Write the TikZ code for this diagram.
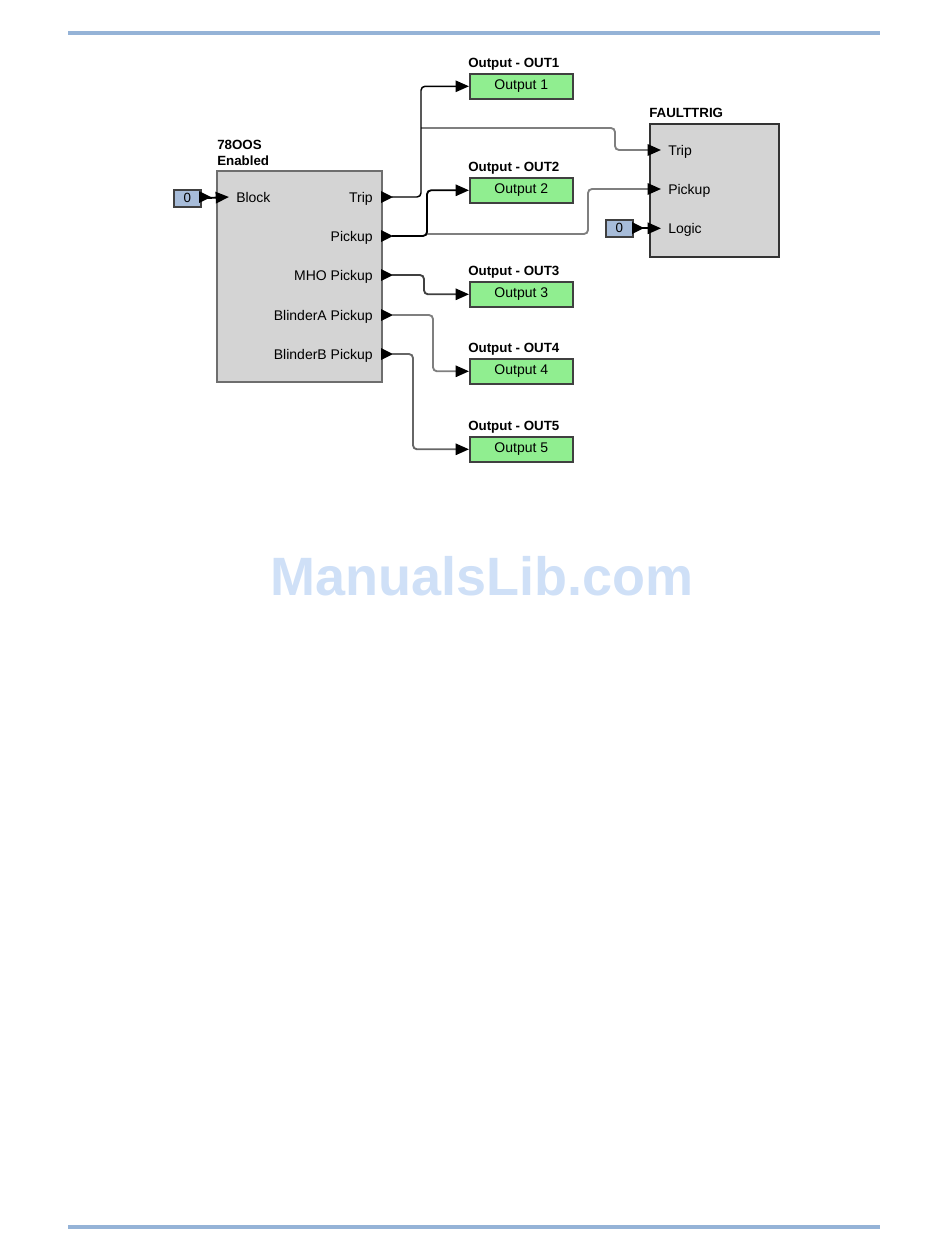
\documentclass[tikz,border=0pt]{standalone}
\usepackage{fontspec}
\setmainfont{Liberation Sans}
\usetikzlibrary{arrows.meta}
\definecolor{blockgray}{HTML}{D4D4D4}
\definecolor{blockedge}{HTML}{6E6E6E}
\definecolor{outgreen}{HTML}{90EE90}
\definecolor{constblue}{HTML}{A7BCD9}
\definecolor{rulecol}{HTML}{95B3D7}
\definecolor{wmark}{HTML}{CFE0F7}
\definecolor{wiregray}{HTML}{7F7F7F}
\begin{document}
\begin{tikzpicture}[x=0.75pt,y=-0.75pt,
  blk/.style={draw=blockedge, fill=blockgray, line width=1.2pt, anchor=north west, inner sep=0pt},
  outbox/.style={draw=black!75, fill=outgreen, line width=1.2pt, anchor=north west, inner sep=0pt,
     minimum width=77.25pt, minimum height=18.75pt, font=\fontsize{10.5}{12}\selectfont},
  constbox/.style={draw=black!75, fill=constblue, line width=1.2pt, anchor=north west, inner sep=0pt,
     minimum width=20.25pt, minimum height=12.75pt, font=\fontsize{10}{12}\selectfont},
  ttl/.style={anchor=base west, inner sep=0pt, font=\fontsize{10}{12}\bfseries\selectfont},
  plbl/.style={inner sep=0pt, font=\fontsize{10.5}{12}\selectfont},
  tip/.style={-{Triangle[length=10pt,width=8.5pt,black]}},
  wire/.style={line width=1.4pt, rounded corners=3pt},
  portmark/.style={fill=black}
]
\useasboundingbox (0,0) rectangle (950,1260);
% rules
\draw[rulecol, line width=2.6pt] (68,33) -- (880,33);
\draw[rulecol, line width=2.6pt] (68,1227) -- (880,1227);
% watermark
\node[anchor=base, inner sep=0pt, text=wmark, font=\fontsize{40.5}{44}\bfseries\selectfont] (wm) at (482,595) {ManualsLib.com};

% main block
\node[blk, minimum width=123.75pt, minimum height=158.25pt] (m) at (216,170) {};
\node[ttl] (mt1) at (217,149) {78OOS};
\node[ttl] (mt2) at (217,165) {Enabled};
\node[plbl, anchor=base west] (lblock) at (236,202) {Block};
\node[plbl, anchor=base east] (ltrip) at (373,202) {Trip};
\node[plbl, anchor=base east] (lpick) at (373,241) {Pickup};
\node[plbl, anchor=base east] (lmho) at (373,280) {MHO Pickup};
\node[plbl, anchor=base east] (lba) at (373,320) {BlinderA Pickup};
\node[plbl, anchor=base east] (lbb) at (373,359) {BlinderB Pickup};

% output port marks on main block
\foreach \yy/\nm in {197/pt,236/pp,275/pm,315/pa,354/pb}{
  \fill[portmark] (381,\yy-6) -- (393,\yy) -- (381,\yy+6) -- cycle;
  \coordinate (\nm) at (392,\yy);
}

% block input const
\node[constbox] (z1) at (173,189) {0};
\fill[portmark] (199,191) -- (211,197) -- (199,203) -- cycle;
\coordinate (bin) at (229,197);
\draw[tip, line width=1.4pt] (z1.east) -- (bin);

% FAULTTRIG block
\node[blk, draw=black!80, minimum width=96.75pt, minimum height=99.75pt] (f) at (649,123) {};
\node[ttl] (ft) at (649,117) {FAULTTRIG};
\node[plbl, anchor=base west] (ftrip) at (668,155) {Trip};
\node[plbl, anchor=base west] (fpick) at (668,194) {Pickup};
\node[plbl, anchor=base west] (flog) at (668,233) {Logic};
\coordinate (fti) at (661,150);
\coordinate (fpi) at (661,189);
\coordinate (fli) at (661,228);
\node[constbox] (z2) at (605,219) {0};
\fill[portmark] (632,222) -- (644,228) -- (632,234) -- cycle;
\draw[tip, line width=1.4pt] (z2.east) -- (z2.east -| fli);

% outputs
\node[outbox] (o1) at (469,73) {Output 1};
\node[outbox] (o2) at (469,177) {Output 2};
\node[outbox] (o3) at (469,281) {Output 3};
\node[outbox] (o4) at (469,358) {Output 4};
\node[outbox] (o5) at (469,436) {Output 5};
\node[ttl] (t1) at (468,67) {Output - OUT1};
\node[ttl] (t2) at (468,171) {Output - OUT2};
\node[ttl] (t3) at (468,275) {Output - OUT3};
\node[ttl] (t4) at (468,352) {Output - OUT4};
\node[ttl] (t5) at (468,430) {Output - OUT5};

% connectors
\coordinate (jt) at (421,128);
\coordinate (jp) at (427,234);
\draw[wire, wiregray, tip] (jt) -- (615,128) |- (fti);
\draw[wire, wiregray, tip] (jp) -- (588,234) |- (fpi);
\draw[wire, black, line width=1.1pt, tip] (pt) -- (421,197) |- (o1.west);
\draw[wire, black, tip] (pp) -- (427,236) |- (o2.west);
\draw[wire, black!75, tip] (pm) -- (424,275) |- (o3.west);
\draw[wire, wiregray, tip] (pa) -- (433,315) |- (o4.west);
\draw[wire, black!60, tip] (pb) -- (413,354) |- (o5.west);
\end{tikzpicture}
\end{document}
